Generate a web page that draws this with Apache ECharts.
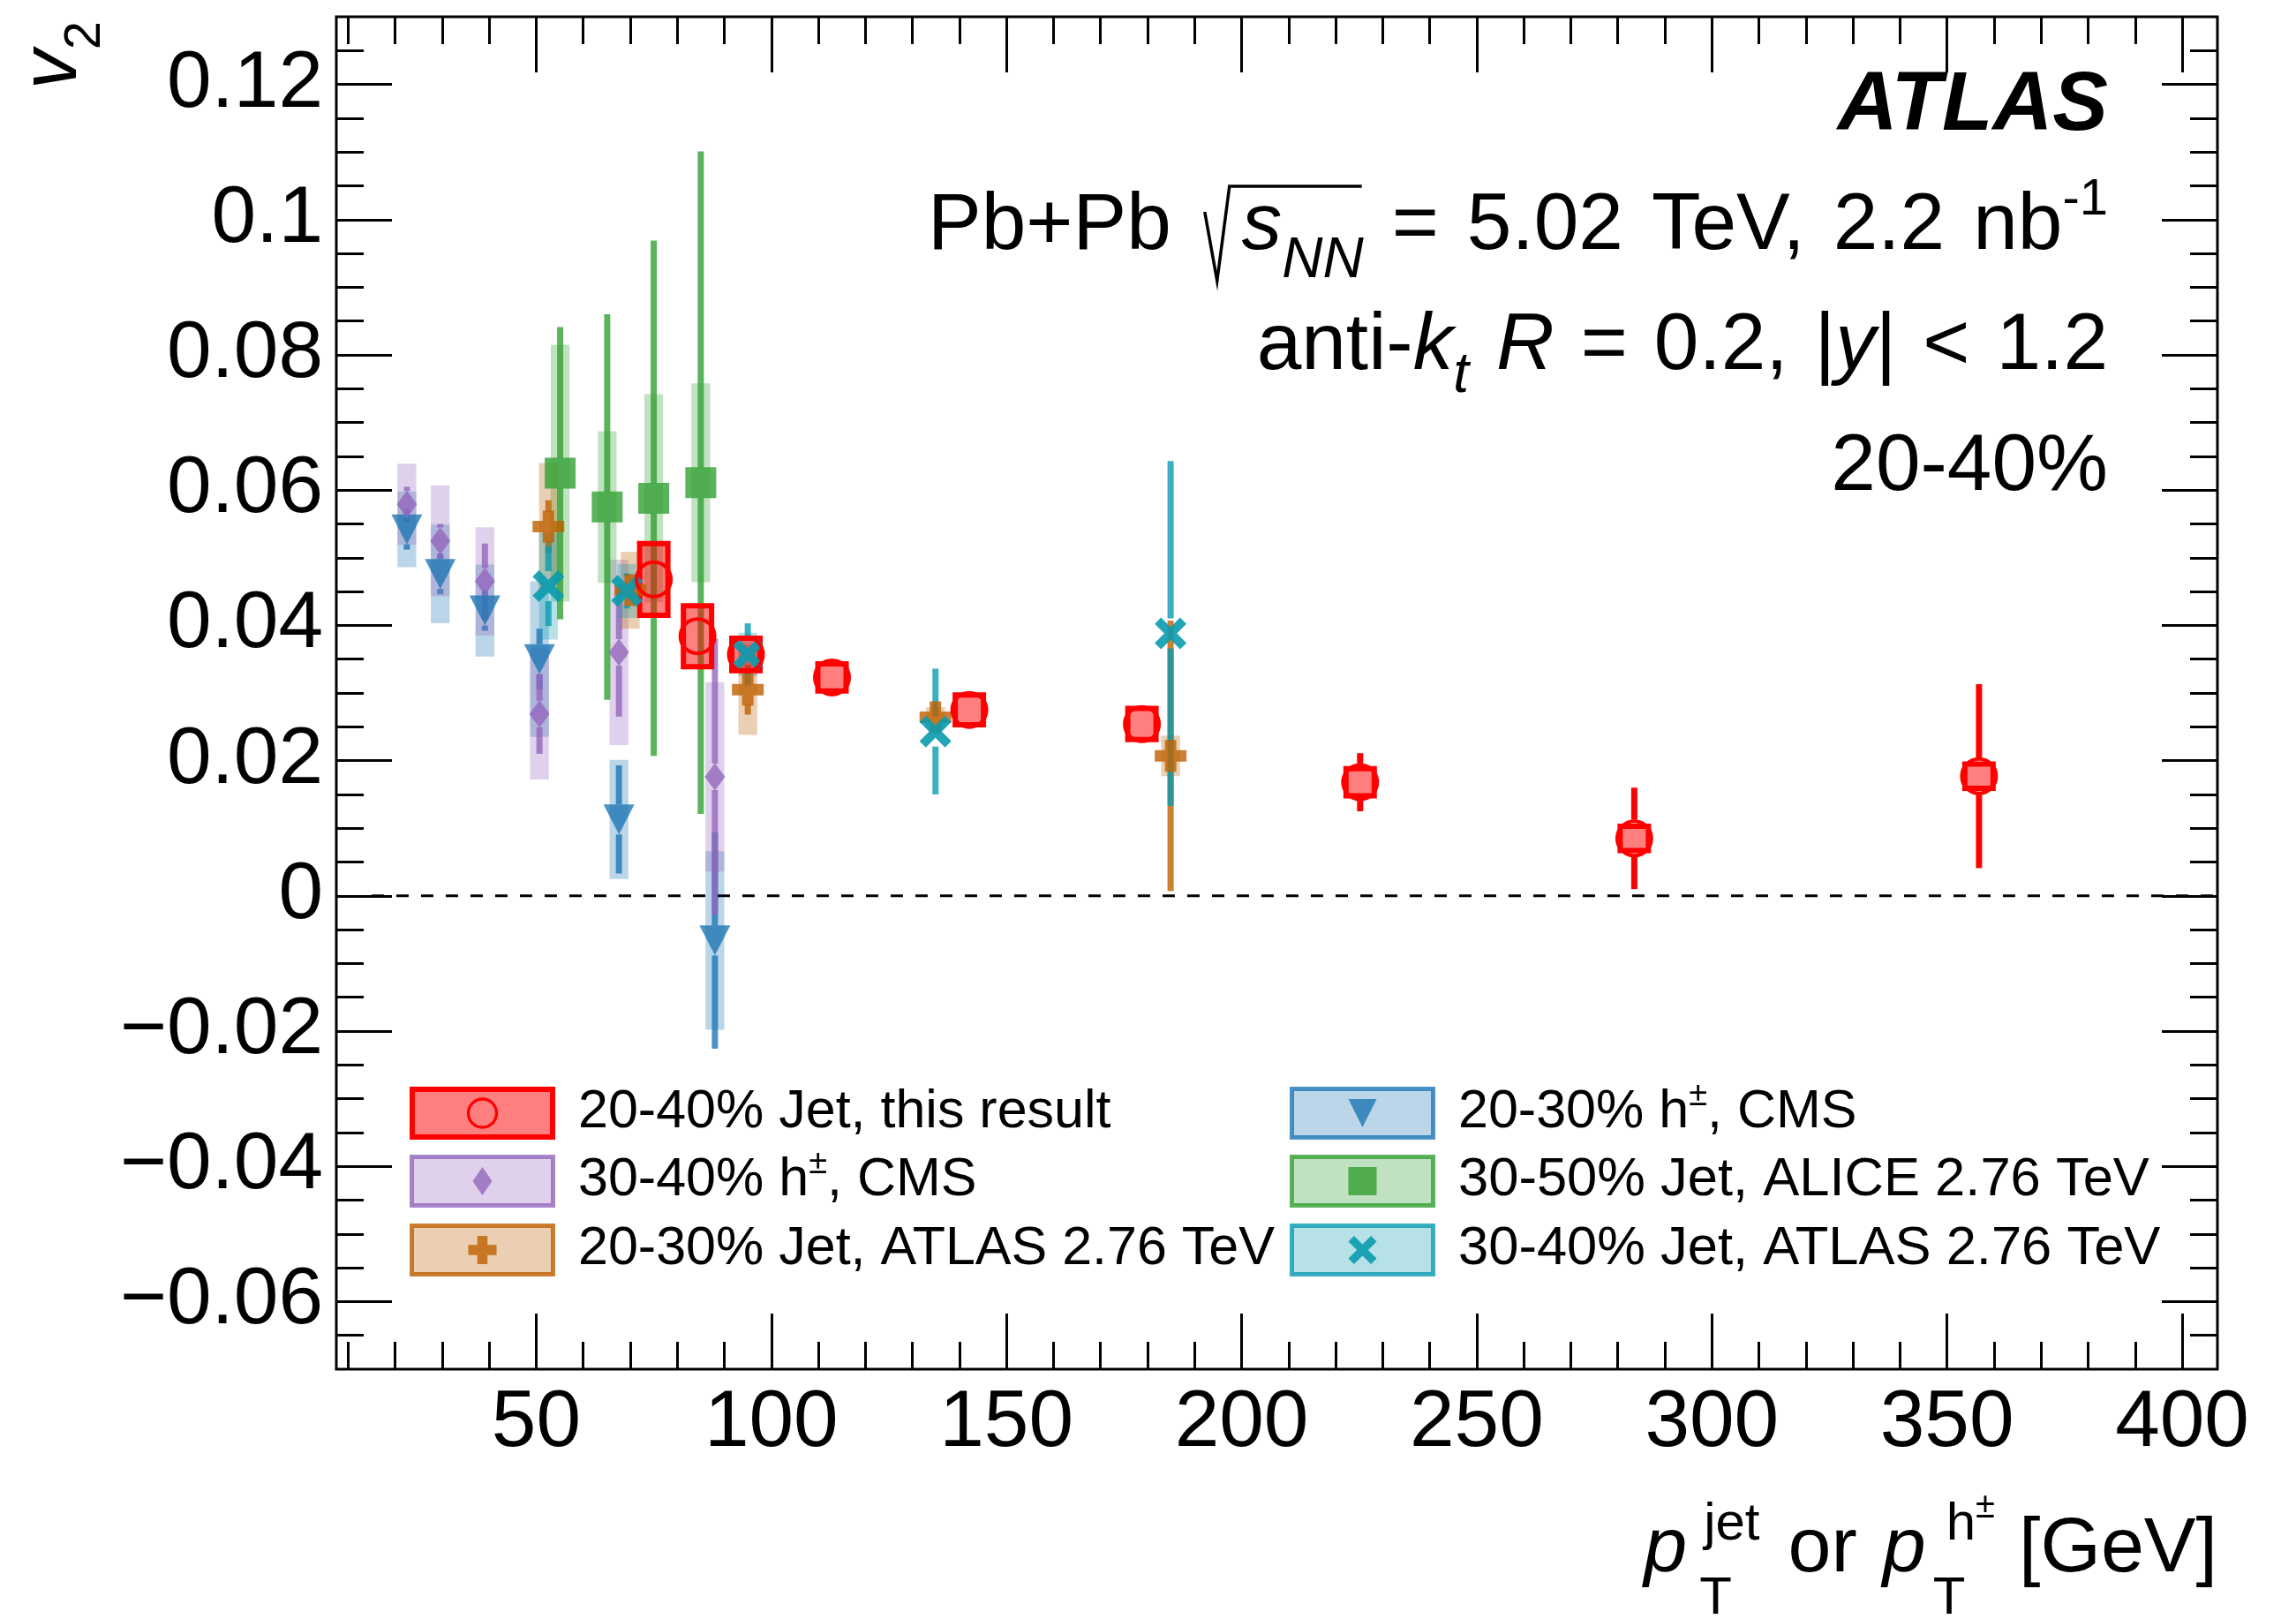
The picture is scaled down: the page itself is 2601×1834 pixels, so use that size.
<!DOCTYPE html>
<html>
<head>
<meta charset="utf-8">
<title>v2 vs pT, Pb+Pb 20-40%</title>
<script src="https://cdn.jsdelivr.net/npm/echarts@6/dist/echarts.min.js"></script>
<style>
  html, body { margin: 0; padding: 0; background: #fff; }
  #chart { width: 2601px; height: 1834px; }
</style>
</head>
<body>
<div id="chart"></div>
<script>
// ---------- values ----------
// 20-40% jet, this result
const jetX    = [75.0, 84.3, 94.6, 112.9, 142.1, 178.8, 225.2, 283.5, 356.8];
const jetV2   = [0.0468, 0.0384, 0.0357, 0.0323, 0.0275, 0.0254, 0.0168, 0.0085, 0.0177];
const jetStat = [0.002, 0.002, 0.002, 0.002, 0.002, 0.002, 0.0043, 0.0075, 0.0136];
const jetSyst = [0.0053, 0.0045, 0.0024, 0.0020, 0.0022, 0.0023, 0.0020, 0.0018, 0.0018];

// CMS h+- (both centralities share the pT bins)
const cmsX        = [22.5, 29.6, 39.1, 50.7, 67.6, 88.0];
const cms3040V2   = [0.0579, 0.0525, 0.0465, 0.0269, 0.0360, 0.0176];
const cms3040Stat = [0.0026, 0.0025, 0.0056, 0.0059, 0.0095, 0.0204];
const cms3040Syst = [0.0060, 0.0082, 0.0080, 0.0097, 0.0137, 0.0140];
const cms2030V2   = [0.0542, 0.0476, 0.0422, 0.0350, 0.0113, -0.0066];
const cms2030Stat = [0.003, 0.003, 0.003, 0.0045, 0.008, 0.016];
const cms2030Syst = [0.0056, 0.0073, 0.0068, 0.0115, 0.0088, 0.0132];

// ATLAS 2.76 TeV jets
const atlas2030X    = [52.6, 70.0, 95.0, 134.9, 184.9];
const atlas2030V2   = [0.0546, 0.0452, 0.0305, 0.0264, 0.0207];
const atlas2030Stat = [0.0039, 0.002, 0.0037, 0.0012, 0.020];
const atlas2030Syst = [0.0094, 0.0057, 0.0067, 0.0015, 0.003];
const atlas3040X    = [52.6, 69.3, 95.0, 134.9, 184.9];
const atlas3040V2   = [0.0458, 0.0451, 0.0357, 0.0243, 0.0388];
const atlas3040Stat = [0.0059, 0.0026, 0.0046, 0.0093, 0.0255];
const atlas3040Syst = [0.0079, 0.004, 0.0032, 0, 0];

// ALICE 2.76 TeV jets, 30-50%
const aliceX    = [55.1, 65.1, 75.0, 85.0];
const aliceV2   = [0.0625, 0.0575, 0.0588, 0.0611];
const aliceStat = [0.0216, 0.0285, 0.0381, 0.049];
const aliceSyst = [0.019, 0.0112, 0.0154, 0.0147];

// axes
const xRange = [7.5, 407.5];
const yRange = [-0.07, 0.13];
const xMajor = [50, 100, 150, 200, 250, 300, 350, 400];
const xMinor = [10, 20, 30, 40, 60, 70, 80, 90, 110, 120, 130, 140, 160, 170, 180, 190,
  210, 220, 230, 240, 260, 270, 280, 290, 310, 320, 330, 340, 360, 370, 380, 390];
const yMajor = [-0.06, -0.04, -0.02, 0, 0.02, 0.04, 0.06, 0.08, 0.1, 0.12];
const yMinor = [-0.065, -0.055, -0.05, -0.045, -0.035, -0.03, -0.025, -0.015, -0.01, -0.005,
  0.005, 0.01, 0.015, 0.025, 0.03, 0.035, 0.045, 0.05, 0.055, 0.065, 0.07, 0.075,
  0.085, 0.09, 0.095, 0.105, 0.11, 0.115, 0.125];
const zeroLineX = [15, 407.5];

// ---------- styles ----------
const FONT = '"Liberation Sans", Arial, Helvetica, sans-serif';
const PLUS = [[32,0],[68,0],[68,32],[100,32],[100,68],[68,68],[68,100],[32,100],[32,68],[0,68],[0,32],[32,32]];
const CROSSX = [[0,20],[20,0],[50,30],[80,0],[100,20],[70,50],[100,80],[80,100],[50,70],[20,100],[0,80],[30,50]];
function toPath(pts) {
  return 'path://M' + pts.map(p => p[0] + ',' + p[1]).join('L') + 'Z';
}
function rgba(rgb, a) { return 'rgba(' + rgb + ',' + a + ')'; }

const styles = {
  cms2030:   { rgb: '31,119,180',  symbol: 'triangle', rotate: 180, size: [35, 34], halfW: 2, gap: 17 },
  cms3040:   { rgb: '148,103,189', symbol: 'diamond', size: [23, 31], halfW: 2, gap: 15 },
  alice:     { rgb: '50,160,50',   symbol: 'rect', size: [35, 35], halfW: 2, gap: 17 },
  atlas2030: { rgb: '190,95,0',    symbol: toPath(PLUS), size: [36, 36], halfW: 2, gap: 17 },
  atlas3040: { rgb: '10,155,175',  symbol: toPath(CROSSX), size: [36, 36], halfW: 2, gap: 17, mAlpha: 0.9 },
  jet:       { rgb: '255,0,0',     symbol: 'circle', size: 39, halfW: 3, gap: 21, hollow: true }
};

const sets = [
  { x: cmsX, y: cms2030V2, stat: cms2030Stat, syst: cms2030Syst, st: styles.cms2030 },
  { x: cmsX, y: cms3040V2, stat: cms3040Stat, syst: cms3040Syst, st: styles.cms3040 },
  { x: aliceX, y: aliceV2, stat: aliceStat, syst: aliceSyst, st: styles.alice },
  { x: atlas2030X, y: atlas2030V2, stat: atlas2030Stat, syst: atlas2030Syst, st: styles.atlas2030 },
  { x: atlas3040X, y: atlas3040V2, stat: atlas3040Stat, syst: atlas3040Syst, st: styles.atlas3040 },
  { x: jetX, y: jetV2, stat: jetStat, syst: jetSyst, st: styles.jet }
];

// ---------- series ----------
function boxSeries(d) {
  const st = d.st;
  return {
    type: 'custom', silent: true, animation: false,
    dimensions: ['x', 'y', 'e'], encode: { x: 0, y: 1 },
    data: d.x.map((x, i) => [x, d.y[i], d.syst[i]]),
    renderItem: function (params, api) {
      const x = api.value(0), y = api.value(1), e = api.value(2);
      if (!e) return { type: 'group', children: [] };
      const a = api.coord([x - st.halfW, y + e]);
      const b = api.coord([x + st.halfW, y - e]);
      return {
        type: 'rect',
        shape: { x: a[0], y: a[1], width: b[0] - a[0], height: b[1] - a[1] },
        style: st.hollow
          ? { fill: 'rgba(255,0,0,0.5)', stroke: '#ff0000', lineWidth: 6 }
          : { fill: rgba(st.rgb, 0.3) }
      };
    }
  };
}

function statSeries(d) {
  const st = d.st;
  const col = st.hollow ? '#ff0000' : rgba(st.rgb, 0.8);
  return {
    type: 'custom', silent: true, animation: false,
    dimensions: ['x', 'y', 'e'], encode: { x: 0, y: 1 },
    data: d.x.map((x, i) => [x, d.y[i], d.stat[i]]),
    renderItem: function (params, api) {
      const x = api.value(0), y = api.value(1), e = api.value(2);
      const c = api.coord([x, y]);
      const top = api.coord([x, y + e])[1];
      const bot = api.coord([x, y - e])[1];
      const w = 7, g = st.gap, ch = [];
      if (c[1] - g > top) {
        ch.push({ type: 'rect', shape: { x: c[0] - w / 2, y: top, width: w, height: c[1] - g - top }, style: { fill: col } });
      }
      if (bot > c[1] + g) {
        ch.push({ type: 'rect', shape: { x: c[0] - w / 2, y: c[1] + g, width: w, height: bot - c[1] - g }, style: { fill: col } });
      }
      return { type: 'group', children: ch };
    }
  };
}

function markerSeries(d) {
  const st = d.st;
  return {
    type: 'scatter', silent: true, animation: false,
    data: d.x.map((x, i) => [x, d.y[i]]),
    symbol: st.symbol, symbolSize: st.size, symbolRotate: st.rotate || 0,
    itemStyle: st.hollow
      ? { color: 'rgba(0,0,0,0)', borderColor: '#ff0000', borderWidth: 4, opacity: 1 }
      : { color: rgba(st.rgb, st.mAlpha || 0.8), opacity: 1 }
  };
}

const series = [{
  type: 'line', silent: true, animation: false, symbol: 'none',
  data: zeroLineX.map(x => [x, 0]),
  lineStyle: { color: '#000', width: 3, type: [14, 14] }
}];
sets.forEach(d => { series.push(boxSeries(d), statSeries(d), markerSeries(d)); });

// ---------- axes ----------
function yLabel(v) {
  const s = Math.abs(v).toFixed(2).replace(/0+$/, '').replace(/\.$/, '');
  return (v < -1e-9 ? '\u2212' : '') + s;
}
function axis(dim, pos, ticks, len, labels) {
  const ax = {
    type: 'value', position: pos,
    min: dim === 'x' ? xRange[0] : yRange[0],
    max: dim === 'x' ? xRange[1] : yRange[1],
    splitLine: { show: false },
    axisLine: { show: false, onZero: false },
    axisTick: { show: true, inside: true, length: len, customValues: ticks, lineStyle: { color: '#000', width: 3 } },
    axisLabel: { show: false }
  };
  if (labels) {
    ax.axisLabel = {
      show: true, customValues: ticks, color: '#000', fontSize: 91, fontFamily: FONT,
      margin: dim === 'x' ? 16 : 15,
      formatter: dim === 'x' ? (v => String(v)) : yLabel
    };
  }
  return ax;
}

// ---------- text helpers ----------
const mctx = document.createElement('canvas').getContext('2d');
function fnt(p) {
  return (p.it ? 'italic ' : '') + (p.b ? 'bold ' : '') + p.s + 'px ' + FONT;
}
function partWidth(p) {
  if (p.gap) return p.gap;
  if (p.stack) return Math.max.apply(null, p.stack.map(q => partWidth(q) + (q.dx || 0)));
  if (p.seq) return p.seq.reduce((a, q) => a + partWidth(q), 0);
  mctx.font = fnt(p);
  return mctx.measureText(p.t).width;
}
function emit(p, x, base, out) {
  if (p.gap) return;
  if (p.stack) { p.stack.forEach(q => emit(q, x, base, out)); return; }
  if (p.seq) {
    let cx = x + (p.dx || 0);
    p.seq.forEach(q => { emit(q, cx, base, out); cx += partWidth(q); });
    return;
  }
  out.push({
    type: 'text', silent: true, z: 100,
    x: x + (p.dx || 0), y: base + (p.dy || 0) - 0.3465 * p.s,
    style: { text: p.t, font: fnt(p), fill: '#000', align: 'left', verticalAlign: 'middle', textAlign: 'left', textVerticalAlign: 'middle' }
  });
}
function layoutLine(parts, x, base, align) {
  const total = parts.reduce((a, p) => a + partWidth(p), 0);
  let cx = align === 'right' ? x - total : x;
  const els = [], pos = [];
  parts.forEach(p => { pos.push(cx); emit(p, cx, base, els); cx += partWidth(p); });
  return { els: els, pos: pos, end: cx };
}

const graphic = [];
function addLine(parts, x, base, align) {
  const r = layoutLine(parts, x, base, align);
  r.els.forEach(e => graphic.push(e));
  return r;
}

// labels top right
const RX = 2388;
addLine([{ t: 'ATLAS', s: 94, it: true, b: true }], RX, 154, 'right');
const l2 = addLine([
  { t: 'Pb+Pb', s: 91 }, { gap: 36 }, { gap: 44 }, { t: 's', s: 91, it: true }, { t: 'NN', s: 64, it: true, dy: 30 },
  { gap: 32 }, { t: '=', s: 91 }, { gap: 32 }, { t: '5.02', s: 91 }, { gap: 32 }, { t: 'TeV,', s: 91 },
  { gap: 32 }, { t: '2.2', s: 91 }, { gap: 32 }, { t: 'nb', s: 91 }, { t: '-1', s: 58, dy: -41 }
], RX, 288, 'right');
graphic.push({
  type: 'polyline', silent: true, z: 100,
  shape: { points: [[l2.pos[2] + 2, 288 - 48], [l2.pos[2] + 16, 288 + 30], [l2.pos[2] + 30, 288 - 77], [l2.pos[5] - 2, 288 - 77]] },
  style: { stroke: '#000', lineWidth: 3.5, fill: null }
});
addLine([
  { t: 'anti-', s: 91 }, { t: 'k', s: 91, it: true }, { t: 't', s: 64, it: true, dy: 24 }, { gap: 31 },
  { t: 'R', s: 91, it: true }, { gap: 30 }, { t: '=', s: 91 }, { gap: 30 }, { t: '0.2,', s: 91 }, { gap: 30 },
  { t: '|', s: 91 }, { t: 'y', s: 91, it: true }, { t: '|', s: 91 }, { gap: 30 }, { t: '<', s: 91 }, { gap: 30 },
  { t: '1.2', s: 91 }
], RX, 424, 'right');
addLine([{ t: '20-40%', s: 91 }], RX, 561, 'right');

// x axis title
addLine([
  { t: 'p', s: 88, it: true }, { gap: 19 },
  { stack: [{ t: 'T', s: 60, dy: 46, dx: -5 }, { t: 'jet', s: 60, dy: -38 }] },
  { gap: 32 }, { t: 'or', s: 88 }, { gap: 29 },
  { t: 'p', s: 88, it: true }, { gap: 23 },
  { stack: [{ t: 'T', s: 60, dy: 46, dx: -15 }, { seq: [{ t: 'h', s: 60, dy: -38 }, { t: '\u00b1', s: 40, dy: -64 }] }] },
  { gap: 27 }, { t: '[GeV]', s: 88 }
], 2512, 1786, 'right');

// y axis title (rotated)
const vt = layoutLine([{ t: 'v', s: 90, it: true }, { t: '2', s: 58, dy: 25 }], 0, 0, 'right');
graphic.push({ type: 'group', x: 92, y: 24, rotation: Math.PI / 2, silent: true, z: 100, children: vt.els });

// legend
const legendCols = [464, 1461];
const legendRows = [1261, 1338, 1416];
const legendEntries = [
  { col: 0, row: 0, st: styles.jet, label: [{ t: '20-40% Jet, this result', s: 61 }] },
  { col: 0, row: 1, st: styles.cms3040, label: [{ t: '30-40% h', s: 61 }, { t: '\u00b1', s: 38, dy: -26 }, { t: ', CMS', s: 61 }] },
  { col: 0, row: 2, st: styles.atlas2030, label: [{ t: '20-30% Jet, ATLAS 2.76 TeV', s: 61 }] },
  { col: 1, row: 0, st: styles.cms2030, label: [{ t: '20-30% h', s: 61 }, { t: '\u00b1', s: 38, dy: -26 }, { t: ', CMS', s: 61 }] },
  { col: 1, row: 1, st: styles.alice, label: [{ t: '30-50% Jet, ALICE 2.76 TeV', s: 61.5 }] },
  { col: 1, row: 2, st: styles.atlas3040, label: [{ t: '30-40% Jet, ATLAS 2.76 TeV', s: 61.5 }] }
];
function mapPts(pts, cx, cy, w, h) {
  return pts.map(p => [cx - w / 2 + p[0] * w / 100, cy - h / 2 + p[1] * h / 100]);
}
legendEntries.forEach(en => {
  const x0 = legendCols[en.col], cy = legendRows[en.row], st = en.st;
  const cx = x0 + 82.5;
  if (st.hollow) {
    graphic.push({ type: 'rect', silent: true, z: 100, shape: { x: x0 + 3, y: cy - 27, width: 159, height: 54 },
      style: { fill: 'rgba(255,0,0,0.5)', stroke: '#ff0000', lineWidth: 6 } });
    graphic.push({ type: 'circle', silent: true, z: 101, shape: { cx: cx, cy: cy, r: 16 },
      style: { fill: null, stroke: '#ff0000', lineWidth: 3.3 } });
  } else {
    graphic.push({ type: 'rect', silent: true, z: 100, shape: { x: x0 + 2.5, y: cy - 27.5, width: 160, height: 55 },
      style: { fill: rgba(st.rgb, 0.3), stroke: rgba(st.rgb, 0.8), lineWidth: 5 } });
    const fill = rgba(st.rgb, st.mAlpha || 0.8);
    let pts;
    if (st.symbol === 'diamond') pts = [[cx, cy - 16], [cx + 11, cy], [cx, cy + 16], [cx - 11, cy]];
    else if (st.symbol === 'triangle') pts = [[cx - 16, cy - 16], [cx + 16, cy - 16], [cx, cy + 16]];
    else if (st.symbol === 'rect') pts = [[cx - 16, cy - 16], [cx + 16, cy - 16], [cx + 16, cy + 16], [cx - 16, cy + 16]];
    else if (st === styles.atlas2030) pts = mapPts(PLUS, cx, cy, 32, 32);
    else pts = mapPts(CROSSX, cx, cy, 32, 32);
    graphic.push({ type: 'polygon', silent: true, z: 101, shape: { points: pts }, style: { fill: fill } });
  }
  addLine(en.label, x0 + 191, cy + 20, 'left');
});

// ---------- chart ----------
const chart = echarts.init(document.getElementById('chart'), null, { renderer: 'canvas' });
chart.setOption({
  animation: false,
  backgroundColor: '#fff',
  grid: { left: 381, right: 89, top: 19, bottom: 283, show: true, borderColor: '#000', borderWidth: 3, backgroundColor: 'transparent' },
  xAxis: [
    axis('x', 'bottom', xMajor, 63, true),
    axis('x', 'bottom', xMinor, 31, false),
    axis('x', 'top', xMajor, 63, false),
    axis('x', 'top', xMinor, 31, false)
  ],
  yAxis: [
    axis('y', 'left', yMajor, 63, true),
    axis('y', 'left', yMinor, 31, false),
    axis('y', 'right', yMajor, 63, false),
    axis('y', 'right', yMinor, 31, false)
  ],
  series: series,
  graphic: { elements: graphic }
});
</script>
</body>
</html>
